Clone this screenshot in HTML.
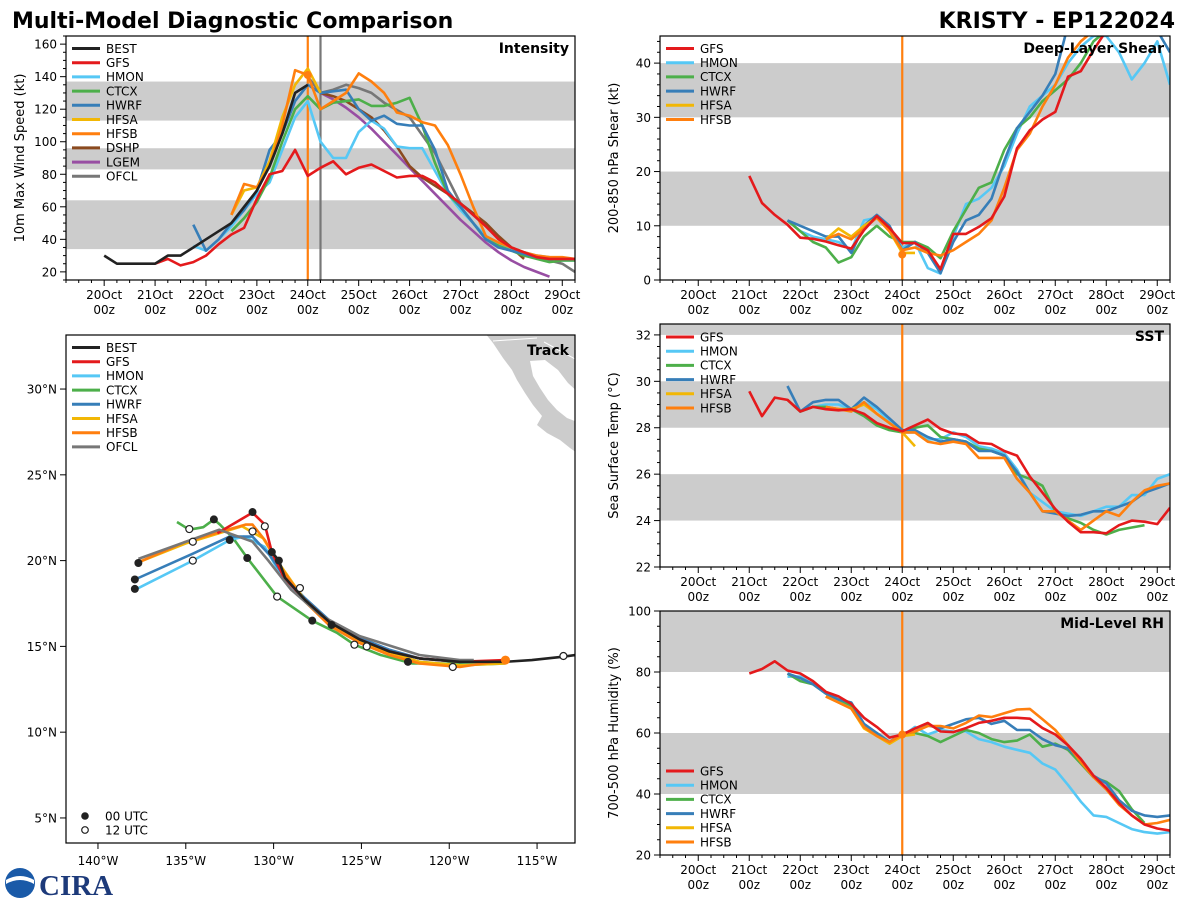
<!DOCTYPE html>
<html><head><meta charset="utf-8">
<style>
html,body{margin:0;padding:0;background:#fff;}
svg{display:block;font-family:"DejaVu Sans","Liberation Sans",sans-serif;}
</style></head>
<body>
<svg id="chart" width="1200" height="900" viewBox="0 0 1200 900">
  <text x="12" y="28" font-size="22" font-weight="bold" fill="#000">Multi-Model Diagnostic Comparison</text>
  <text x="1175" y="28" font-size="22" font-weight="bold" fill="#000" text-anchor="end">KRISTY - EP122024</text>
  <g>
    <circle cx="20" cy="883" r="15" fill="#1a5aa8"/>
    <path d="M6,880 Q20,872 34,880 L34,884 Q20,876 6,884 Z" fill="#fff"/>
    <text x="39" y="895" font-size="29" font-weight="bold" fill="#1d3a7a" font-family="Liberation Serif, serif">CIRA</text>
  </g>
</svg>
<script>
// ---------------- DATA ----------------
const dayLabels = ['20Oct','21Oct','22Oct','23Oct','24Oct','25Oct','26Oct','27Oct','28Oct','29Oct'];
const hourLabel = '00z';

// Intensity (kt), 6-hourly from start day offset (days after 20Oct 00z)
const intBestStart = 0;    const intBest = [30,25,25,25,25,30,30,35,40,45,50,60,70,85,105,130,135];
const intGfsStart = 1.0;   const intGfs = [25,28,24,26,30,37,43,47,65,80,82,95,79,84,88,80,84,86,82,78,79,79,75,68,62,55,48,40,35,32,29,28,28,28];
const intHmonStart = 1.75; const intHmon = [36,33,40,48,58,68,75,95,115,125,100,90,90,106,113,108,97,96,96,82,68,58,50,42,37,34,32,30,29,27,27];
const intCtcxStart = 2.5;  const intCtcx = [45,53,63,78,100,120,128,120,124,125,126,122,122,124,127,110,87,68,60,50,40,36,33,30,28,26,27,27];
const intHwrfStart = 1.75; const intHwrf = [49,33,40,50,58,70,95,105,125,135,130,131,132,120,113,116,111,110,110,95,70,60,50,40,35,33,31,29,28,28,28];
const intHfsaStart = 2.5;  const intHfsa = [55,70,72,88,115,135,145,130];
const intHfsbStart = 2.5;  const intHfsb = [55,74,72,85,110,144,141,120,125,130,142,137,130,118,116,112,110,98,80,60,42,38,35,32,30,29,29,28];
const intDshpStart = 4.25; const intDshp = [130,128,125,120,115,107,97,85,78,73,68,62,56,50,42,35,28];
const intLgemStart = 4.25; const intLgem = [130,126,121,115,108,100,92,84,76,68,60,52,45,38,32,27,23,20,17];
const intOfclTimes = [4.0,4.25,4.5,4.75,5.0,5.25,5.5,6.0,6.5,7.0,7.5,8.0,8.5,9.0,9.25];
const intOfcl = [140,130,132,135,133,130,124,115,93,62,48,35,29,25,20];
const intTicks = [20,40,60,80,100,120,140,160];
const intBands = [[34,64],[83,96],[113,137]];

// Shear (kt)
const shrGfsStart = 1.0;   const shrGfs = [19.2,14.2,12.0,10.2,7.8,7.6,7.1,6.4,5.8,9.2,11.8,9.6,6.8,6.8,5.5,2.0,8.5,8.5,9.8,11.4,15.4,24.3,27.6,29.6,31.0,37.5,38.5,42.4,46];
const shrHmonStart = 1.75; const shrHmon = [11,9,8,7.5,7,5.5,11,11.5,9.5,6,7,2.2,1.2,8,14,15,17,21,27,32,34,36,40,43,45,45,42,37,40,44,36];
const shrCtcxStart = 1.75; const shrCtcx = [11,9,7,6,3.2,4.2,8,10,8,7,7,6,4,9,13,17,18,24,28,30,33,35,37,40,44,46];
const shrHwrfStart = 1.75; const shrHwrf = [11,10,9,8,8,5,10,12,10,5.5,7,5,1.3,7,11,12,15,22,28,31,34,38,47,50,50,50,50,50,50,46,42];
const shrHfsaStart = 2.5;  const shrHfsa = [7.5,9.5,8,10,11.5,9,5,5];
const shrHfsbStart = 2.5;  const shrHfsb = [7.5,8.5,7.5,9.5,11.5,9,5.5,6,5,4.5,5.5,7,8.5,11,17,24,27,32,36,41,44,46];
const shrTicks = [0,10,20,30,40];
const shrBands = [[10,20],[30,40]];

// SST (deg C)
const sstGfsStart = 1.0;   const sstGfs = [29.57,28.5,29.3,29.2,28.7,28.9,28.8,28.75,28.8,28.6,28.2,28.0,27.85,28.1,28.35,27.95,27.75,27.7,27.35,27.3,27.0,26.8,25.9,25.2,24.5,23.95,23.5,23.5,23.45,23.8,24.0,23.95,23.85,24.55];
const sstHmonStart = 2.0;  const sstHmon = [28.7,28.9,29.0,29.0,28.8,29.1,28.8,28.3,27.8,27.8,27.5,27.5,27.8,27.6,27.2,27.1,26.9,26.2,25.2,24.8,24.4,24.3,24.2,24.4,24.6,24.6,25.1,25.1,25.8,26.0];
const sstCtcxStart = 1.75; const sstCtcx = [29.2,28.7,28.9,28.9,28.8,28.8,28.5,28.1,27.9,27.8,28.0,28.1,27.6,27.5,27.4,27.1,27.0,26.8,26.0,25.8,25.5,24.4,24.1,23.9,23.6,23.4,23.6,23.7,23.8];
const sstHwrfStart = 1.75; const sstHwrf = [29.8,28.7,29.1,29.2,29.2,28.8,29.3,28.9,28.4,27.9,27.9,27.6,27.4,27.5,27.4,27.0,27.0,26.8,26.1,25.2,24.4,24.3,24.2,24.25,24.4,24.4,24.6,24.8,25.2,25.4,25.6];
const sstHfsaStart = 2.5;  const sstHfsa = [28.9,28.8,28.8,29.0,28.6,28.2,27.8,27.2];
const sstHfsbStart = 2.5;  const sstHfsb = [28.9,28.8,28.7,29.1,28.6,28.2,27.8,27.8,27.4,27.3,27.4,27.3,26.7,26.7,26.7,25.8,25.2,24.4,24.4,24.0,23.6,24.0,24.4,24.2,24.8,25.3,25.5,25.6];
const sstTicks = [22,24,26,28,30,32];
const sstBands = [[24,26],[28,30],[32,33]];

// Mid-level RH (%)
const rhGfsStart = 1.0;   const rhGfs = [79.5,81,83.5,80.5,79.5,77,73.5,72,69.5,65,62,58.5,59.5,61.5,63.3,60.5,60.3,61.6,63.3,64,65,65,64.7,61.6,59.5,56,51.5,46,42,37,33,30,28.7,28];
const rhHmonStart = 1.75; const rhHmon = [78.5,78.5,76,73,70.5,68.5,63,60,57,59,62,59.5,61,60.5,60.5,58,57,55.5,54.5,53.5,50,48,43,37.5,33,32.5,30.5,28.5,27.5,27,27.5];
const rhCtcxStart = 1.75; const rhCtcx = [79.5,77,76,73,71,69,62,60,57,59.5,60,59,57,59,61,60,58,57,57.5,59.5,55.5,56.5,54.5,50,45.5,44,41,35,30.5];
const rhHwrfStart = 1.75; const rhHwrf = [79.5,78,76,73,71,70,63,60,57,60,60.5,62.5,61.5,63,64.5,65,63,64,61,61,58,56,55,51,46,43.5,38,34.5,33,32.5,33];
const rhHfsaStart = 2.5;  const rhHfsa = [72,70,68,61.5,59,56.5,59,59.5];
const rhHfsbStart = 2.5;  const rhHfsb = [72,70,68,62,59,57,59.5,60.5,62.3,62.3,61.5,63.3,65.7,65.2,66.5,67.7,67.9,64.5,61,56,50.5,45.5,41.5,36.5,33,30,30.5,31.5];
const rhTicks = [20,40,60,80,100];
const rhBands = [[40,60],[80,100]];

// Track (lon deg E negative, lat deg N)
const trkBestLon = [-130.1,-129.7,-129.35,-128.2,-126.8,-125.1,-123.4,-121.7,-119.4,-116.8,-115.3,-113.5,-112.8];
const trkBestLat = [20.5,20.0,19.0,17.7,16.4,15.4,14.7,14.3,14.1,14.1,14.2,14.4,14.5];
const trkGfsLon = [-133.2,-131.2,-130.5,-130.1,-129.4,-128.2,-126.8,-125.1,-123.4,-121.7,-119.4,-116.8];
const trkGfsLat = [21.6,22.8,22.1,20.5,19.0,17.7,16.4,15.4,14.7,14.3,14.1,14.2];
const trkHmonLon = [-137.9,-134.6,-132.5,-131.7,-130.5,-129.6,-128.2,-126.8,-125.1,-123.4,-121.7,-119.4,-116.8];
const trkHmonLat = [18.3,20.0,21.2,21.4,20.8,19.2,17.6,16.3,15.3,14.6,14.1,13.9,14.0];
const trkCtcxLon = [-135.5,-134.8,-134.0,-133.4,-133.05,-132.3,-131.5,-129.8,-127.8,-126.4,-125.4,-123.9,-122.1,-119.8,-118.6,-116.9];
const trkCtcxLat = [22.25,21.8,21.95,22.4,22.1,21.3,20.15,17.9,16.5,15.8,15.1,14.5,14.0,14.0,13.95,14.0];
const trkHwrfLon = [-137.9,-134.6,-132.5,-131.2,-130.2,-129.35,-128.2,-126.8,-125.1,-123.4,-121.7,-119.4,-116.8];
const trkHwrfLat = [18.9,20.4,21.4,21.4,20.3,19.0,17.8,16.5,15.5,14.8,14.3,14.1,14.1];
const trkHfsaLon = [-137.7,-135.0,-131.8,-130.6,-129.8,-128.3,-126.8,-125.1,-123.4,-121.7,-119.4,-116.8];
const trkHfsaLat = [19.9,21.0,22.0,21.3,20.0,17.8,16.4,15.3,14.6,14.1,13.9,14.0];
const trkHfsbLon = [-137.7,-135.0,-131.6,-131.2,-130.5,-129.8,-128.2,-126.8,-125.1,-123.4,-121.7,-119.4,-116.8];
const trkHfsbLat = [19.9,21.1,22.1,22.1,21.2,19.9,17.6,16.2,15.2,14.5,14.0,13.8,14.2];
const trkOfclLon = [-137.7,-133.1,-131.2,-130.3,-129.0,-127.3,-125.1,-121.7,-119.4,-118.6];
const trkOfclLat = [20.1,21.8,21.1,20.0,18.3,16.8,15.6,14.5,14.2,14.2];
const trkDot00Lon = [-137.9,-137.9,-137.7,-133.4,-132.5,-131.2,-131.5,-130.1,-129.7,-127.8,-126.7,-122.35];
const trkDot00Lat = [18.35,18.9,19.86,22.4,21.2,22.83,20.15,20.5,20.0,16.5,16.25,14.1];
const trkDot12Lon = [-134.8,-134.6,-134.6,-131.2,-130.5,-129.8,-128.5,-125.4,-124.7,-119.8,-113.5];
const trkDot12Lat = [21.84,20.0,21.1,21.7,22.0,17.9,18.4,15.1,15.0,13.8,14.44];
const trkLonTicks = [-140,-135,-130,-125,-120,-115];
const trkLatTicks = [5,10,15,20,25,30];

// ---------------- DRAWING ----------------
const NS = 'http://www.w3.org/2000/svg';
const svg = document.getElementById('chart');
function mk(tag, attrs, parent) {
  const e = document.createElementNS(NS, tag);
  for (const k in attrs) e.setAttribute(k, attrs[k]);
  (parent || svg).appendChild(e);
  return e;
}
const COL = {BEST:'#222222',GFS:'#e41a1c',HMON:'#56c8f5',CTCX:'#4daf4a',HWRF:'#377eb8',HFSA:'#f2b705',HFSB:'#ff7f0e',DSHP:'#8b4a1f',LGEM:'#984ea3',OFCL:'#777777'};
const TMIN = -0.75, TMAX = 9.25;

function tsPanel(name, box, ymin, ymax, ticks, minorStep, bands, ylabel, title) {
  const g = mk('g', {});
  
  
  const xs = t => box.x0 + (t - TMIN) / (TMAX - TMIN) * (box.x1 - box.x0);
  const ys = v => box.y1 - (v - ymin) / (ymax - ymin) * (box.y1 - box.y0);
  const cp = mk('clipPath', {id: 'clip-' + name}, g);
  mk('rect', {x: box.x0, y: box.y0, width: box.x1 - box.x0, height: box.y1 - box.y0}, cp);
  bands.forEach(b => {
    const r = mk('rect', {x: box.x0, y: ys(Math.min(b[1], ymax)), width: box.x1 - box.x0, height: ys(b[0]) - ys(Math.min(b[1], ymax)), fill: '#cccccc'}, g);
    
    
  });
  for (let h = Math.ceil(TMIN * 4); h <= TMAX * 4; h++) {
    const t = h / 4, x = xs(t), major = (h % 4 === 0);
    const tk = mk('line', {x1: x, x2: x, y1: box.y1, y2: box.y1 + (major ? 6 : 3), stroke: '#000', 'stroke-width': 1}, g);
    
    
    if (major && t >= 0 && t < dayLabels.length) {
      const lb = mk('text', {x: x, y: box.y1 + 19, 'font-size': 12, 'text-anchor': 'middle'}, g);
      lb.textContent = dayLabels[t];
      
      
      const lb2 = mk('text', {x: x, y: box.y1 + 34, 'font-size': 12, 'text-anchor': 'middle'}, g);
      lb2.textContent = hourLabel;
      
      
    }
  }
  for (let v = Math.ceil(ymin / minorStep) * minorStep; v <= ymax + 1e-9; v += minorStep) {
    const major = ticks.some(tv => Math.abs(tv - v) < 1e-6);
    const tk = mk('line', {x1: box.x0 - (major ? 6 : 3), x2: box.x0, y1: ys(v), y2: ys(v), stroke: '#000', 'stroke-width': 1}, g);
    
    
  }
  ticks.forEach(v => {
    const lb = mk('text', {x: box.x0 - 9, y: ys(v) + 4.5, 'font-size': 12, 'text-anchor': 'end'}, g);
    lb.textContent = v;
    
    
  });
  const yl = mk('text', {x: 0, y: 0, 'font-size': 13, 'text-anchor': 'middle', transform: `translate(${box.x0 - 42},${(box.y0 + box.y1) / 2}) rotate(-90)`}, g);
  yl.textContent = ylabel;
  
  
  const series = mk('g', {'clip-path': `url(#clip-${name})`}, g);
  
  
  const ttl = mk('text', {x: box.x1 - 6, y: box.y0 + 17, 'font-size': 14, 'font-weight': 'bold', 'text-anchor': 'end'}, g);
  ttl.textContent = title;
  
  
  return {g, series, xs, ys, box};
}
function vline(p, t, color, name) {
  const l = mk('line', {x1: p.xs(t), x2: p.xs(t), y1: p.box.y0, y2: p.box.y1, stroke: color, 'stroke-width': 2.2}, p.series);
  
  
}
function series(p, start, vals, model, prefix, times) {
  const pts = vals.map((v, i) => [p.xs(times ? times[i] : start + i * 0.25), p.ys(v)]);
  const pl = mk('polyline', {points: pts.map(q => q[0].toFixed(1) + ',' + q[1].toFixed(1)).join(' '), fill: 'none', stroke: COL[model], 'stroke-width': 2.6, 'stroke-linejoin': 'round'}, p.series);
  
  
}
function frame(p, name) {
  const r = mk('rect', {x: p.box.x0, y: p.box.y0, width: p.box.x1 - p.box.x0, height: p.box.y1 - p.box.y0, fill: 'none', stroke: '#000', 'stroke-width': 1.2}, p.g);
  
  
}
function legend(parent, x0, y0, models, prefix) {
  models.forEach((m, i) => {
    const y = y0 + i * 14.2;
    const l = mk('line', {x1: x0 + 6, x2: x0 + 34, y1: y, y2: y, stroke: COL[m], 'stroke-width': 3}, parent);
    
    
    const t = mk('text', {x: x0 + 40, y: y + 4.3, 'font-size': 12}, parent);
    t.textContent = m;
    
    
  });
}

// Intensity
const pI = tsPanel('intensity', {x0: 66, x1: 575, y0: 36, y1: 280}, 15, 165, intTicks, 5, intBands, '10m Max Wind Speed (kt)', 'Intensity');
vline(pI, 4.0, COL.HFSB, 'intensity-init-time-line');
vline(pI, 4.25, '#777777', 'intensity-ofcl-time-line');
series(pI, intOfclTimes[0], intOfcl, 'OFCL', 'intensity', intOfclTimes);
series(pI, intLgemStart, intLgem, 'LGEM', 'intensity');
series(pI, intDshpStart, intDshp, 'DSHP', 'intensity');
series(pI, intHmonStart, intHmon, 'HMON', 'intensity');
series(pI, intCtcxStart, intCtcx, 'CTCX', 'intensity');
series(pI, intHwrfStart, intHwrf, 'HWRF', 'intensity');
series(pI, intHfsaStart, intHfsa, 'HFSA', 'intensity');
series(pI, intHfsbStart, intHfsb, 'HFSB', 'intensity');
series(pI, intGfsStart, intGfs, 'GFS', 'intensity');
series(pI, intBestStart, intBest, 'BEST', 'intensity');
const iDot = mk('circle', {cx: pI.xs(4.0), cy: pI.ys(intHfsb[6]), r: 4, fill: COL.HFSB}, pI.series);


frame(pI, 'intensity');
legend(pI.g, 66, 48.5, ['BEST','GFS','HMON','CTCX','HWRF','HFSA','HFSB','DSHP','LGEM','OFCL'], 'intensity');

// Shear
const pS = tsPanel('shear', {x0: 660, x1: 1170, y0: 36, y1: 280}, 0, 45, shrTicks, 2, shrBands, '200-850 hPa Shear (kt)', 'Deep-Layer Shear');
vline(pS, 4.0, COL.HFSB, 'shear-init-time-line');
series(pS, shrHmonStart, shrHmon, 'HMON', 'shear');
series(pS, shrCtcxStart, shrCtcx, 'CTCX', 'shear');
series(pS, shrHwrfStart, shrHwrf, 'HWRF', 'shear');
series(pS, shrHfsaStart, shrHfsa, 'HFSA', 'shear');
series(pS, shrHfsbStart, shrHfsb, 'HFSB', 'shear');
series(pS, shrGfsStart, shrGfs, 'GFS', 'shear');
const sDot = mk('circle', {cx: pS.xs(4.0), cy: pS.ys(4.7), r: 4, fill: COL.HFSB}, pS.series);


frame(pS, 'shear');
legend(pS.g, 660, 48.5, ['GFS','HMON','CTCX','HWRF','HFSA','HFSB'], 'shear');

// SST
const pT = tsPanel('sst', {x0: 660, x1: 1170, y0: 324, y1: 567}, 22, 32.47, sstTicks, 0.5, sstBands, 'Sea Surface Temp (\u00B0C)', 'SST');
vline(pT, 4.0, COL.HFSB, 'sst-init-time-line');
series(pT, sstHmonStart, sstHmon, 'HMON', 'sst');
series(pT, sstCtcxStart, sstCtcx, 'CTCX', 'sst');
series(pT, sstHwrfStart, sstHwrf, 'HWRF', 'sst');
series(pT, sstHfsaStart, sstHfsa, 'HFSA', 'sst');
series(pT, sstHfsbStart, sstHfsb, 'HFSB', 'sst');
series(pT, sstGfsStart, sstGfs, 'GFS', 'sst');
frame(pT, 'sst');
legend(pT.g, 660, 337, ['GFS','HMON','CTCX','HWRF','HFSA','HFSB'], 'sst');

// RH
const pR = tsPanel('rh', {x0: 660, x1: 1170, y0: 611, y1: 855}, 20, 100, rhTicks, 5, rhBands, '700-500 hPa Humidity (%)', 'Mid-Level RH');
vline(pR, 4.0, COL.HFSB, 'rh-init-time-line');
series(pR, rhHmonStart, rhHmon, 'HMON', 'rh');
series(pR, rhCtcxStart, rhCtcx, 'CTCX', 'rh');
series(pR, rhHwrfStart, rhHwrf, 'HWRF', 'rh');
series(pR, rhHfsaStart, rhHfsa, 'HFSA', 'rh');
series(pR, rhHfsbStart, rhHfsb, 'HFSB', 'rh');
series(pR, rhGfsStart, rhGfs, 'GFS', 'rh');
const rDot = mk('circle', {cx: pR.xs(4.0), cy: pR.ys(rhHfsb[6]), r: 4, fill: COL.HFSB}, pR.series);


frame(pR, 'rh');
legend(pR.g, 660, 771, ['GFS','HMON','CTCX','HWRF','HFSA','HFSB'], 'rh');

// Track
const TB = {x0: 66, x1: 575, y0: 335, y1: 843};
const LONMIN = -141.82, LONMAX = -112.84, LATMIN = 3.54, LATMAX = 33.15;
const lx = lo => TB.x0 + (lo - LONMIN) / (LONMAX - LONMIN) * (TB.x1 - TB.x0);
const ly = la => TB.y1 - (la - LATMIN) / (LATMAX - LATMIN) * (TB.y1 - TB.y0);
const tg = mk('g', {});


const tcp = mk('clipPath', {id: 'clip-track'}, tg);
mk('rect', {x: TB.x0, y: TB.y0, width: TB.x1 - TB.x0, height: TB.y1 - TB.y0}, tcp);
const tin = mk('g', {'clip-path': 'url(#clip-track)'}, tg);


const land1 = mk('path', {d: 'M485,333 L580,333 L580,455 L570,448 L560,440 L547,433 L537,425 L542,416 L533,405 L525,393 L517,380 L512,370 L503,358 L493,343 Z', fill: '#cccccc'}, tin);


const gulf = mk('path', {d: 'M530,361 L545,360 L558,370 L568,383 L580,394 L580,423 L567,418 L557,410 L548,400 L540,388 L533,376 Z', fill: '#ffffff'}, tin);


const border = mk('polyline', {points: '493,341 537,338', fill: 'none', stroke: '#fff', 'stroke-width': 1}, tin);


const border2 = mk('polyline', {points: '544,342 577,360', fill: 'none', stroke: '#fff', 'stroke-width': 1}, tin);


function track(lons, lats, model) {
  const pl = mk('polyline', {points: lons.map((lo, i) => lx(lo).toFixed(1) + ',' + ly(lats[i]).toFixed(1)).join(' '), fill: 'none', stroke: COL[model], 'stroke-width': 2.6, 'stroke-linejoin': 'round'}, tin);
  
  
}
track(trkCtcxLon, trkCtcxLat, 'CTCX');
track(trkHmonLon, trkHmonLat, 'HMON');
track(trkHwrfLon, trkHwrfLat, 'HWRF');
track(trkHfsaLon, trkHfsaLat, 'HFSA');
track(trkHfsbLon, trkHfsbLat, 'HFSB');
track(trkGfsLon, trkGfsLat, 'GFS');
track(trkOfclLon, trkOfclLat, 'OFCL');
track(trkBestLon, trkBestLat, 'BEST');
trkDot00Lon.forEach((lo, i) => {
  const c = mk('circle', {cx: lx(lo), cy: ly(trkDot00Lat[i]), r: 4, fill: '#222'}, tin);
  
  
});
trkDot12Lon.forEach((lo, i) => {
  const c = mk('circle', {cx: lx(lo), cy: ly(trkDot12Lat[i]), r: 3.5, fill: '#fff', stroke: '#222', 'stroke-width': 1.2}, tin);
  
  
});
const lastDot = mk('circle', {cx: lx(-116.8), cy: ly(14.2), r: 4.5, fill: COL.HFSB}, tin);


trkLonTicks.forEach(lo => {
  const tk = mk('line', {x1: lx(lo), x2: lx(lo), y1: TB.y1, y2: TB.y1 + 6, stroke: '#000'}, tg);
  
  
  const lb = mk('text', {x: lx(lo), y: TB.y1 + 22, 'font-size': 12, 'text-anchor': 'middle'}, tg);
  lb.textContent = Math.abs(lo) + '\u00B0W';
  
  
});
trkLatTicks.forEach(la => {
  const tk = mk('line', {x1: TB.x0 - 6, x2: TB.x0, y1: ly(la), y2: ly(la), stroke: '#000'}, tg);
  
  
  const lb = mk('text', {x: TB.x0 - 9, y: ly(la) + 4.5, 'font-size': 12, 'text-anchor': 'end'}, tg);
  lb.textContent = la + '\u00B0N';
  
  
});
const tfr = mk('rect', {x: TB.x0, y: TB.y0, width: TB.x1 - TB.x0, height: TB.y1 - TB.y0, fill: 'none', stroke: '#000', 'stroke-width': 1.2}, tg);


const ttl = mk('text', {x: TB.x1 - 6, y: TB.y0 + 20, 'font-size': 14, 'font-weight': 'bold', 'text-anchor': 'end'}, tg);
ttl.textContent = 'Track';


legend(tg, 66, 347.5, ['BEST','GFS','HMON','CTCX','HWRF','HFSA','HFSB','OFCL'], 'track');
const d0 = mk('circle', {cx: 85, cy: 816, r: 3.8, fill: '#222'}, tg);


const d0t = mk('text', {x: 105, y: 820.5, 'font-size': 12}, tg);
d0t.textContent = '00 UTC';


const d1 = mk('circle', {cx: 85, cy: 830, r: 3.3, fill: '#fff', stroke: '#222', 'stroke-width': 1.2}, tg);


const d1t = mk('text', {x: 105, y: 834.5, 'font-size': 12}, tg);
d1t.textContent = '12 UTC';


</script>
</body></html>
